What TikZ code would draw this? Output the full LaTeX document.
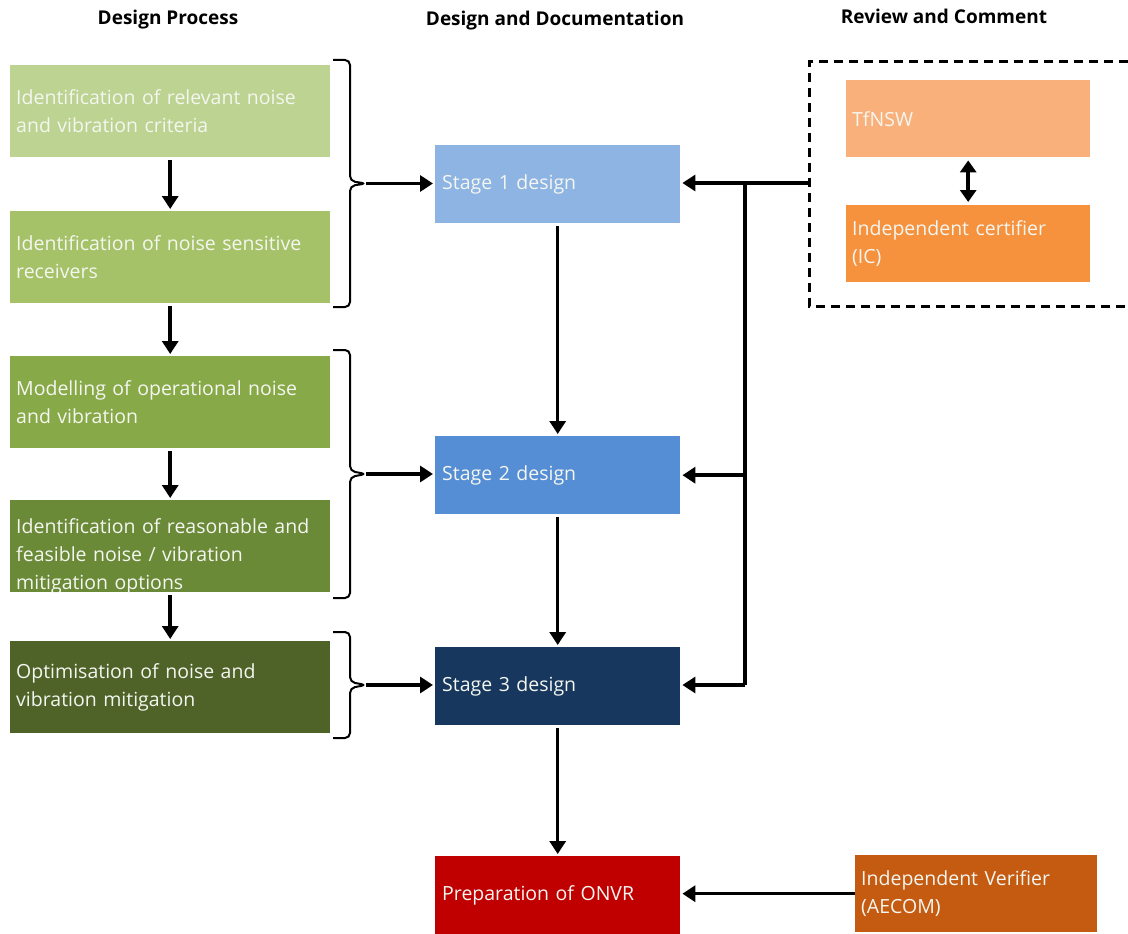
\documentclass[tikz,border=0pt]{standalone}
\usepackage{fontspec}
\setmainfont{Open Sans}
\usetikzlibrary{arrows.meta}
\definecolor{gA}{HTML}{BDD392}
\definecolor{gB}{HTML}{A6C268}
\definecolor{gC}{HTML}{88A948}
\definecolor{gD}{HTML}{6B8A38}
\definecolor{gE}{HTML}{4F6228}
\definecolor{sA}{HTML}{8EB4E3}
\definecolor{sB}{HTML}{558ED5}
\definecolor{sC}{HTML}{17375E}
\definecolor{red1}{HTML}{C00000}
\definecolor{or1}{HTML}{FAB07A}
\definecolor{or2}{HTML}{F6913E}
\definecolor{or3}{HTML}{C55A11}
\definecolor{txt}{HTML}{F4F6F0}
\begin{document}
\begin{tikzpicture}[x=1pt,y=-1pt,
  box/.style={anchor=north west, inner xsep=6pt, inner ysep=0pt, align=left,
    text=txt, font=\fontsize{19.5}{28}\selectfont},
  greenbox/.style={box, minimum width=320pt, text width=308pt, minimum height=92pt},
  stagebox/.style={box, minimum width=245pt, text width=231pt, minimum height=78pt},
  revbox/.style={box, minimum width=244pt, text width=232pt, minimum height=77pt},
  head/.style={font=\fontsize{19}{22}\selectfont\bfseries, text=black},
  arr/.style={line width=3.5pt, -{Triangle[length=13pt,width=16pt]}},
  bline/.style={line width=3.5pt},
  brc/.style={line width=2pt, rounded corners=5pt}
]
\useasboundingbox (0,0) rectangle (1128,934);

% headers
\node[head] (h1) at (168,20) {Design Process};
\node[head] (h2) at (555,21) {Design and Documentation};
\node[head] (h3) at (944,16) {Review and Comment};

% green column
\node[greenbox, fill=gA] (b1) at (10,65) {Identification of relevant noise\\and vibration criteria};
\node[greenbox, fill=gB] (b2) at (10,211) {Identification of noise sensitive\\receivers};
\node[greenbox, fill=gC] (b3) at (10,356) {Modelling of operational noise\\and vibration};
\node[greenbox, fill=gD] (b4) at (10,500) {};
\begin{scope}
  \clip (b4.north west) rectangle (b4.south east);
  \node[box, text width=308pt, anchor=west] (b4t) at (10,556) {Identification of reasonable and\\feasible noise / vibration\\mitigation options};
\end{scope}
\node[greenbox, fill=gE] (b5) at (10,641) {Optimisation of noise and\\vibration mitigation};

\draw[arr, shorten <=3pt, shorten >=2pt] (b1.south) -- (b2.north);
\draw[arr, shorten <=3pt, shorten >=2pt] (b2.south) -- (b3.north);
\draw[arr, shorten <=3pt, shorten >=2pt] (b3.south) -- (b4.north);
\draw[arr, shorten <=3pt, shorten >=2pt] (b4.south) -- (b5.north);

% stage column
\node[stagebox, fill=sA] (s1) at (435,145) {Stage 1 design};
\node[stagebox, fill=sB] (s2) at (435,436) {Stage 2 design};
\node[stagebox, fill=sC] (s3) at (435,647) {Stage 3 design};
\node[stagebox, fill=red1] (s4) at (435,856) {Preparation of ONVR};

\draw[arr, shorten <=3pt, shorten >=2pt] (s1.south) -- (s2.north);
\draw[arr, shorten <=3pt, shorten >=2pt] (s2.south) -- (s3.north);
\draw[arr, shorten <=3pt, shorten >=2pt] (s3.south) -- (s4.north);

% braces
\draw[brc] (333,60) -- (350,60) -- (350,181) -- (366,183.5) -- (350,186) -- (350,307) -- (333,307);
\coordinate (t1) at (366,183.5);
\draw[brc] (333,350) -- (350,350) -- (350,471) -- (366,474) -- (350,477) -- (350,598) -- (333,598);
\coordinate (t2) at (366,474);
\draw[brc] (333,632) -- (350,632) -- (350,682) -- (366,685) -- (350,688) -- (350,738) -- (333,738);
\coordinate (t3) at (366,685);
\draw[arr, shorten >=2pt] (t1) -- (s1.west |- t1);
\draw[arr, shorten >=2pt] (t2) -- (s2.west |- t2);
\draw[arr, shorten >=2pt] (t3) -- (s3.west |- t3);

% review group
\draw[line width=3pt, dash pattern=on 9pt off 6pt] (1128,62) -- (809,62) -- (809,306) -- (1128,306);
\node[revbox, fill=or1] (tf) at (846,80) {TfNSW};
\node[revbox, fill=or2] (ic) at (846,205) {Independent certifier\\(IC)};
\draw[line width=3.5pt, {Triangle[length=12pt,width=16pt]}-{Triangle[length=12pt,width=16pt]}, shorten <=3pt, shorten >=3pt] (tf.south) -- (ic.north);

% feedback lines
\coordinate (fb) at (809,183);
\coordinate (j1) at (745,183);
\coordinate (j3) at (745,685);
\draw[arr, shorten >=2pt] (fb) -- (s1.east |- fb);
\draw[bline] (j1) -- (j3);
\draw[arr, shorten >=2pt] (j1 |- s2.east) -- (s2.east);
\draw[arr, shorten >=2pt] (j3) -- (s3.east |- j3);

% independent verifier
\node[box, fill=or3, minimum width=242pt, text width=230pt, minimum height=77pt] (iv) at (855,855) {Independent Verifier\\(AECOM)};
\draw[arr, shorten >=2pt] (iv.west) -- (s4.east |- iv.west);
\end{tikzpicture}
\end{document}
